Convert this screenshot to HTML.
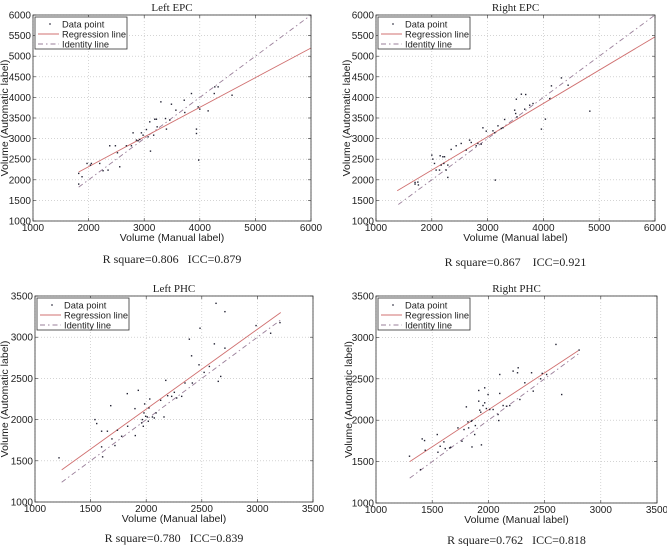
<!DOCTYPE html>
<html><head><meta charset="utf-8"><style>
html,body{margin:0;padding:0;background:#fff}
svg{display:block}
.pre{white-space:pre}
</style></head><body>
<svg id="fig" width="667" height="546" viewBox="0 0 667 546" xmlns="http://www.w3.org/2000/svg"></svg>
<script>
// ---- Left EPC ----
const leftEpcX = [1822,1822,1882,1972,2032,2050,2200,2350,2260,2380,2482,2519,2560,2680,2770,2800,2860,2890,2920,2950,2980,3040,3070,3100,3113,3170,3190,3233,3220,3300,3383,3400,3460,3490,3570,3720,3730,3850,3940,3940,3980,3970,4000,4150,4260,4270,4330,4580];
const leftEpcY = [2155,1896,2074,2397,2357,2397,2397,2235,2220,2826,2826,2656,2316,2826,2826,3140,2963,2947,2979,3140,3083,3220,3043,3407,2696,3083,3470,3286,3470,3892,3487,3230,3450,3835,3690,3932,3633,4094,3230,3124,2478,3770,3714,3673,4094,4256,4256,4053];
const leftEpcReg = [1822,2190,6000,5200];
const leftEpcId = [1822,6000];
// ---- Right EPC ----
const rightEpcX = [1700,1700,1750,1760,2000,2018,2048,2078,2138,2150,2168,2198,2228,2216,2257,2287,2287,2347,2437,2527,2617,2677,2707,2796,2826,2886,2916,2976,3096,3126,3138,3186,3246,3275,3305,3485,3503,3515,3527,3605,3964,4036,4114,4144,4323,4443,4832,3665,3754,3814,3683];
const rightEpcY = [1936,1896,1944,1875,2599,2502,2397,2236,2236,2583,2357,2559,2559,2397,2236,2058,2357,2737,2826,2882,2720,2963,2906,2826,2882,2866,3262,3181,3189,3140,1993,3310,3246,3262,3464,3690,3609,3956,3528,4078,3230,3472,3972,4280,4473,4296,3666,3714,3811,3851,4070];
const rightEpcReg = [1380,1735,6000,5470];
const rightEpcId = [1400,6000];
// ---- Left PHC ----
const leftPhcX = [1216,1539,1555,1599,1599,1608,1651,1681,1692,1719,1741,1779,1830,1833,1902,1899,1929,1959,1965,1974,1980,1986,1995,2010,2019,2025,2032,2056,2073,2089,2130,2160,2176,2193,2229,2253,2274,2319,2349,2388,2408,2415,2484,2475,2521,2568,2613,2628,2648,2670,2708,2708,2988,3119,3203];
const leftPhcY = [1536,2000,1952,1859,1669,1548,1859,2169,1766,1685,1871,1798,2315,1919,1806,2133,2355,1960,2000,1919,2081,2190,2040,2032,1980,2141,2250,2032,2020,2081,2234,2032,2476,2290,2282,2331,2262,2282,2444,2976,2774,2444,3109,2665,2573,2645,2919,3411,2464,2524,2867,3310,3141,3048,3177];
const leftPhcReg = [1240,1390,3210,3300];
const leftPhcId = [1240,3210];
// ---- Right PHC ----
const rightPhcX = [1298,1396,1411,1432,1438,1545,1551,1571,1604,1616,1655,1664,1729,1765,1783,1804,1818,1824,1848,1854,1878,1884,1854,1914,1914,1923,1932,1938,1952,1967,1967,1982,1997,2012,2042,2086,2092,2101,2101,2131,2161,2190,2220,2259,2265,2280,2324,2384,2399,2464,2479,2518,2601,2652,2807];
const rightPhcY = [1565,1403,1774,1754,1637,1827,1613,1685,1738,1657,1665,1673,1907,1746,1887,2161,1980,1907,1988,1996,1827,1935,1677,2359,2230,2121,2097,1702,2177,2391,2210,2141,2310,2129,2129,2069,1996,2552,2323,2177,2169,2177,2593,2573,2633,2250,2452,2573,2351,2500,2565,2552,2915,2310,2847];
const rightPhcReg = [1300,1500,2800,2840];
const rightPhcId = [1300,2800];

const epcTicks = [1000,2000,3000,4000,5000,6000];
const epcYTicks = [1000,1500,2000,2500,3000,3500,4000,4500,5000,5500,6000];
const phcTicks = [1000,1500,2000,2500,3000,3500];

const NS='http://www.w3.org/2000/svg';
const fig=document.getElementById('fig');
function mk(tag,attrs,parent){const e=document.createElementNS(NS,tag);for(const k in attrs)e.setAttribute(k,attrs[k]);(parent||fig).appendChild(e);return e;}

function panel(p){
  const g=mk('g',{});
  
  
  const sx=v=>p.L+(v-p.xmin)/(p.xmax-p.xmin)*(p.R-p.L);
  const sy=v=>p.B-(v-p.ymin)/(p.ymax-p.ymin)*(p.B-p.T);
  p.xt.forEach(v=>{const l=mk('line',{x1:sx(v),x2:sx(v),y1:p.T,y2:p.B,stroke:'#bbb','stroke-width':0.6,'stroke-dasharray':'1,2'},g);
    });
  p.yt.forEach(v=>{const l=mk('line',{x1:p.L,x2:p.R,y1:sy(v),y2:sy(v),stroke:'#bbb','stroke-width':0.6,'stroke-dasharray':'1,2'},g);
    });
  const id=mk('line',{x1:sx(p.id[0]),y1:sy(p.id[0]),x2:sx(p.id[1]),y2:sy(p.id[1]),stroke:'#9a7f9a','stroke-width':0.9,'stroke-dasharray':'5,3,1.5,3'},g);
  
  const rg=mk('line',{x1:sx(p.reg[0]),y1:sy(p.reg[1]),x2:sx(p.reg[2]),y2:sy(p.reg[3]),stroke:'#d07070','stroke-width':0.9},g);
  
  p.xs.forEach((v,i)=>{const c=mk('rect',{x:sx(v)-0.7,y:sy(p.ys[i])-0.7,width:1.4,height:1.4,fill:'#223'},g);
    });
  const fr=mk('rect',{x:p.L,y:p.T,width:p.R-p.L,height:p.B-p.T,fill:'none',stroke:'#333','stroke-width':0.8},g);
  
  p.xt.forEach(v=>{
    mk('line',{x1:sx(v),x2:sx(v),y1:p.B,y2:p.B-3,stroke:'#333','stroke-width':0.6},g);
    mk('line',{x1:sx(v),x2:sx(v),y1:p.T,y2:p.T+3,stroke:'#333','stroke-width':0.6},g);
    const t=mk('text',{x:sx(v),y:p.B+10,'text-anchor':'middle','font-size':'10','font-family':'Liberation Sans, sans-serif',fill:'#222'},g);
    t.textContent=v;});
  p.yt.forEach(v=>{
    mk('line',{x1:p.L,x2:p.L+3,y1:sy(v),y2:sy(v),stroke:'#333','stroke-width':0.6},g);
    mk('line',{x1:p.R,x2:p.R-3,y1:sy(v),y2:sy(v),stroke:'#333','stroke-width':0.6},g);
    const t=mk('text',{x:p.L-2,y:sy(v)+3.5,'text-anchor':'end','font-size':'10','font-family':'Liberation Sans, sans-serif',fill:'#222'},g);
    t.textContent=v;});
  const xl=mk('text',{x:(p.L+p.R)/2,y:p.B+20,'text-anchor':'middle','font-size':'10.5','font-family':'Liberation Sans, sans-serif',fill:'#222'},g);
  xl.textContent='Volume (Manual label)';
  const yx=p.ylx, yy=(p.T+p.B)/2;
  const yl=mk('text',{x:yx,y:yy,'text-anchor':'middle','font-size':'10.5','font-family':'Liberation Sans, sans-serif',fill:'#222',transform:`rotate(-90 ${yx} ${yy})`},g);
  yl.textContent='Volume (Automatic label)';
  const ti=mk('text',{x:(p.L+p.R)/2,y:p.T-4,'text-anchor':'middle','font-size':'11','font-family':'Liberation Serif, serif',fill:'#222'},g);
  ti.textContent=p.title;
  const ca=mk('text',{x:(p.L+p.R)/2,y:p.capY,'text-anchor':'middle','font-size':'12','font-family':'Liberation Serif, serif',fill:'#222','class':'pre'},g);
  ca.textContent=p.cap;
  const lg=mk('g',{},g);
  
  const lx=p.L+2, ly=p.T+2;
  mk('rect',{x:lx,y:ly,width:92,height:32,fill:'#fff',stroke:'#333','stroke-width':0.8},lg);
  const items=[['Data point','pt'],['Regression line','reg'],['Identity line','id']];
  items.forEach((it,i)=>{
    const yy2=ly+7+i*10;
    if(it[1]==='pt') mk('rect',{x:lx+14.3,y:yy2-0.7,width:1.4,height:1.4,fill:'#223'},lg);
    else if(it[1]==='reg') mk('line',{x1:lx+3,x2:lx+24,y1:yy2,y2:yy2,stroke:'#d07070','stroke-width':0.9},lg);
    else mk('line',{x1:lx+3,x2:lx+24,y1:yy2,y2:yy2,stroke:'#9a7f9a','stroke-width':0.9,'stroke-dasharray':'5,3,1.5,3'},lg);
    const t=mk('text',{x:lx+27,y:yy2+3.3,'font-size':'9.3','font-family':'Liberation Sans, sans-serif',fill:'#222'},lg);
    t.textContent=it[0];
  });
}
panel({key:'left-epc',title:'Left EPC',cap:'R square=0.806   ICC=0.879',L:33,R:311,T:15,B:221,xmin:1000,xmax:6000,ymin:1000,ymax:6000,xt:epcTicks,yt:epcYTicks,xs:leftEpcX,ys:leftEpcY,reg:leftEpcReg,id:leftEpcId,ylx:8,capY:263});
panel({key:'right-epc',title:'Right EPC',cap:'R square=0.867    ICC=0.921',L:376,R:655,T:15,B:221,xmin:1000,xmax:6000,ymin:1000,ymax:6000,xt:epcTicks,yt:epcYTicks,xs:rightEpcX,ys:rightEpcY,reg:rightEpcReg,id:rightEpcId,ylx:350,capY:266});
panel({key:'left-phc',title:'Left PHC',cap:'R square=0.780   ICC=0.839',L:35,R:313,T:296,B:502,xmin:1000,xmax:3500,ymin:1000,ymax:3500,xt:phcTicks,yt:phcTicks,xs:leftPhcX,ys:leftPhcY,reg:leftPhcReg,id:leftPhcId,ylx:8,capY:542});
panel({key:'right-phc',title:'Right PHC',cap:'R square=0.762   ICC=0.818',L:376,R:657,T:296,B:503,xmin:1000,xmax:3500,ymin:1000,ymax:3500,xt:phcTicks,yt:phcTicks,xs:rightPhcX,ys:rightPhcY,reg:rightPhcReg,id:rightPhcId,ylx:352,capY:544});
</script>
</body></html>
